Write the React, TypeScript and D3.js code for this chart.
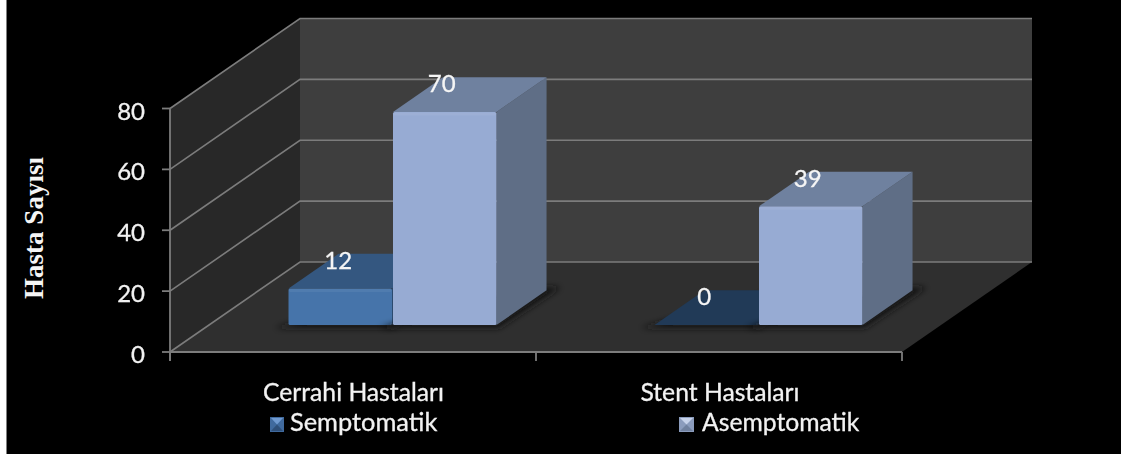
import React from "react";
import * as d3 from "d3";

const categories = ["Cerrahi Hastaları", "Stent Hastaları"];
const seriesNames = ["Semptomatik", "Asemptomatik"];
const semptomatik = [12, 0];
const asemptomatik = [70, 39];
const yTicks = [0, 20, 40, 60, 80];
const axisTitle = "Hasta Sayısı";

const W = 1121;
const H = 456;

// Oblique projection: depth 0 is the front edge of the floor, depth 1 the back wall.
const depthX = 130;
const depthY = -90;
const project = (x: number, y: number, t: number): [number, number] => [x + depthX * t, y + depthY * t];

const xBand = d3.scaleBand<string>().domain(categories).range([170, 902]);
const y = d3.scaleLinear().domain([0, 80]).range([352, 108.5]);
const barDepth = d3.scaleLinear().domain([0, 1]).range([0.3, 0.685]);

const poly = (pts: [number, number][]) => d3.line()(pts) + "Z";

const wall = "#3e3e3e";
const sideWall = "#282828";
const floor = "#2f2f2f";
const grid = "#7c7c7c";
const sansFont = "Lato, 'Open Sans', sans-serif";

type Palette = { front: string; top: string; side: string };
const palettes: Palette[] = [
  { front: "#4674aa", top: "#345780", side: "#2c4a6e" },
  { front: "#97abd3", top: "#6f819f", side: "#5f6e86" },
];

function Bar({ x0, x1, value, palette, flat }: { x0: number; x1: number; value: number; palette: Palette; flat: boolean }) {
  const t0 = barDepth(0);
  const t1 = barDepth(1);
  const yb = y(0);
  const yt = y(value);
  const frontTop = project(x0, yt, t0);
  const frontTopR = project(x1, yt, t0);
  const frontBot = project(x0, yb, t0);
  const frontBotR = project(x1, yb, t0);
  const backTop = project(x0, yt, t1);
  const backTopR = project(x1, yt, t1);
  const backBotR = project(x1, yb, t1);
  const shadow: [number, number][] = [
    [frontBot[0] - 14, frontBot[1] + 3],
    [frontBotR[0] + 2, frontBot[1] + 3],
    [backBotR[0] + 14, backBotR[1] - 3],
    [backBotR[0] - 20, backBotR[1] - 3],
  ];
  return (
    <g>
      <path d={poly(shadow)} fill="#141414" filter="url(#soft)" />
      {flat ? (
        <path d={poly([frontBot, frontBotR, backTopR, backTop])} fill="#213a57" />
      ) : (
        <>
          <path d={poly([frontTopR, backTopR, backBotR, frontBotR])} fill={palette.side} />
          <path d={poly([frontTop, frontTopR, backTopR, backTop])} fill={palette.top} />
          <rect x={frontTop[0]} y={frontTop[1]} width={x1 - x0} height={yb - yt} rx={1.5} fill={palette.front} />
          <rect x={frontTop[0] + 0.5} y={frontTop[1] + 0.5} width={x1 - x0 - 1} height={3} rx={1.5} fill="#fff" opacity={0.06} />
        </>
      )}
    </g>
  );
}

// Bevelled legend swatch: a base square with a bright top facet and a dimmer bottom facet.
function LegendKey({ x, yTop, w, h, base, faces }: { x: number; yTop: number; w: number; h: number; base: string; faces: string[] }) {
  const c: [number, number] = [x + w / 2, yTop + h / 2];
  const tl: [number, number] = [x + 1, yTop + 1];
  const tr: [number, number] = [x + w - 1, yTop + 1];
  const br: [number, number] = [x + w - 1, yTop + h - 1];
  const bl: [number, number] = [x + 1, yTop + h - 1];
  return (
    <g filter="url(#textSoft)">
      <rect x={x} y={yTop} width={w} height={h} fill={base} />
      <path d={poly([tl, tr, c])} fill={faces[0]} />
      <path d={poly([br, bl, c])} fill={faces[1]} />
    </g>
  );
}

export default function App() {
  const left = xBand.range()[0];
  const right = xBand.range()[1];
  const inner = xBand.bandwidth() * 0.5655;
  const barW = inner / 2;

  const groups = categories.map((c, i) => {
    const cx = (xBand(c) as number) + xBand.bandwidth() / 2;
    return { c, x0: cx - barW, mid: cx, x1: cx + barW, i };
  });
  const labelDx = barDepth(0) * depthX - 2;
  const labelTop = (v: number) => project(0, y(v), barDepth(1))[1] + 15;

  return (
    <svg
      width={W}
      height={H}
      viewBox={`0 0 ${W} ${H}`}
      style={{ position: "absolute", left: 0, top: 0, display: "block", background: "#fff" }}
    >
      <defs>
        <filter id="soft" x="-20%" y="-40%" width="140%" height="180%">
          <feGaussianBlur stdDeviation="3" />
        </filter>
        <filter id="textSoft" x="-10%" y="-10%" width="120%" height="120%">
          <feGaussianBlur stdDeviation="0.4" />
        </filter>
      </defs>

      <rect x={6.5} y={0} width={W - 6.5} height={454} fill="#000" />

      {/* Chart box: floor, side wall and back wall */}
      <path d={poly([project(left, y(0), 0), project(right, y(0), 0), project(right, y(0), 1), project(left, y(0), 1)])} fill={floor} />
      <path d={poly([project(left, y(0), 0), project(left, y(80), 0), project(left, y(80), 1), project(left, y(0), 1)])} fill={sideWall} />
      <rect x={left + depthX} y={y(80) + depthY} width={right - left} height={y(0) - y(80)} fill={wall} />

      {/* Gridlines run along the side wall and across the back wall */}
      {yTicks.map((v) => {
        const a = project(left, y(v), 0);
        const b = project(left, y(v), 1);
        const c = project(right, y(v), 1);
        return (
          <g key={v}>
            <path d={d3.line()([a, b, c]) as string} fill="none" stroke={grid} strokeWidth={1.6} />
            <line x1={left - 8} x2={left} y1={y(v)} y2={y(v)} stroke={grid} strokeWidth={1.8} />
            <text x={145} y={y(v) + 11} textAnchor="end" fontFamily={sansFont} fontSize={24} fill="#f2f2f2" stroke="#f2f2f2" strokeWidth={0.3} filter="url(#textSoft)">
              {v}
            </text>
          </g>
        );
      })}

      {/* Front edge of the floor and the axes */}
      <line x1={left} x2={left} y1={y(80)} y2={y(0) + 9} stroke={grid} strokeWidth={1.8} />
      <line x1={left} x2={right} y1={y(0)} y2={y(0)} stroke={grid} strokeWidth={2} />
      {[...categories.map((c) => xBand(c) as number), right].map((tx) => (
        <line key={tx} x1={tx} x2={tx} y1={y(0)} y2={y(0) + 9} stroke={grid} strokeWidth={1.8} />
      ))}

      {/* Bars */}
      {groups.map((g) => (
        <g key={g.c}>
          <Bar x0={g.x0} x1={g.mid} value={semptomatik[g.i]} palette={palettes[0]} flat={semptomatik[g.i] === 0} />
          <Bar x0={g.mid + 1} x1={g.x1 + 1} value={asemptomatik[g.i]} palette={palettes[1]} flat={false} />
        </g>
      ))}

      {/* Value labels sit near the rear edge of each bar's top */}
      {groups.map((g) => (
        <g key={g.c + "-labels"} fontFamily={sansFont} fontSize={24} fill="#f5f5f5" stroke="#f5f5f5" strokeWidth={0.3} textAnchor="middle" filter="url(#textSoft)">
          <text x={g.x0 + barW / 2 + labelDx} y={labelTop(semptomatik[g.i])}>
            {semptomatik[g.i]}
          </text>
          <text x={g.mid + barW / 2 + labelDx} y={labelTop(asemptomatik[g.i])}>
            {asemptomatik[g.i]}
          </text>
        </g>
      ))}

      {/* Category labels */}
      <g fontFamily={sansFont} fontSize={24.7} fill="#f2f2f2" stroke="#f2f2f2" strokeWidth={0.3} filter="url(#textSoft)">
        <text x={353.5} y={401} textAnchor="middle">{categories[0]}</text>
        <text x={720} y={401} textAnchor="middle">{categories[1]}</text>
        <text x={290} y={431} fontSize={25.4}>{seriesNames[0]}</text>
        <text x={702} y={431}>{seriesNames[1]}</text>
      </g>

      {/* Legend keys */}
      <LegendKey x={270} yTop={417} w={14} h={15} base="#3f6a9e" faces={["#6f9ad0", "#2f5079"]} />
      <LegendKey x={679} yTop={417} w={15} h={15} base="#8b9cbd" faces={["#c6d2ea", "#6f819f"]} />

      {/* Axis title */}
      <text
        transform="translate(43,228) rotate(-90)"
        textAnchor="middle"
        fontFamily="'Liberation Serif', serif"
        fontWeight="bold"
        fontSize={27}
        fill="#f5f5f5"
      >
        {axisTitle}
      </text>
    </svg>
  );
}
